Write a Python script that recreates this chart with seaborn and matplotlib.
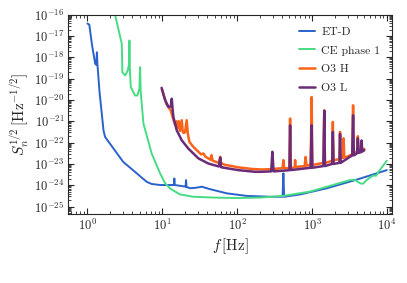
import numpy as np
import pandas as pd
import matplotlib
matplotlib.use("Agg")
import matplotlib.pyplot as plt
import seaborn as sns
from matplotlib.ticker import LogLocator, NullFormatter

# ET-D sensitivity (log10 of ASD values)
etd_f = [1.0, 1.06, 1.15, 1.27, 1.31, 1.34, 1.36, 1.45, 1.64, 1.72, 3.0, 6.2, 7.2, 9.4, 14.0, 14.3, 14.5, 14.7,
         20.0, 20.5, 20.8, 21.1, 23.5, 28.0, 33.8, 43.0, 72.8, 134, 275, 405, 415, 425, 696, 1590, 4200, 10000]
etd_log = [-16.41, -16.47, -17.4, -18.3, -18.35, -17.76, -18.3, -19.6, -21.42, -21.73, -22.9, -23.84, -23.94, -23.99,
           -23.99, -23.99, -23.68, -23.99, -24.06, -24.07, -23.76, -24.08, -24.14, -24.12, -24.07, -24.18, -24.38,
           -24.5, -24.54, -24.54, -23.44, -24.54, -24.43, -24.14, -23.71, -23.29]

# CE phase 1
ce_f = [2.1, 2.34, 2.88, 2.93, 3.19, 3.46, 3.6, 3.64, 3.7, 3.8, 4.33, 4.65, 4.95, 5.06, 5.15, 5.6, 7.2, 9.34, 10.9,
        12.7, 17.2, 26, 50, 100, 200, 415, 935, 1900, 3200, 3700, 4400, 4800, 5400, 6500, 7200, 8000, 10000]
ce_log = [-15.4, -16.0, -17.37, -18.7, -18.85, -18.62, -18.3, -17.21, -18.7, -19.4, -19.79, -19.79, -19.47, -18.46,
          -19.6, -21.1, -22.5, -23.44, -23.9, -24.15, -24.43, -24.54, -24.58, -24.6, -24.58, -24.5, -24.3, -23.99,
          -23.76, -23.74, -23.91, -23.93, -23.75, -23.55, -23.55, -23.3, -22.85]

# O3 Hanford
o3h_f = [9.9, 11.4, 12.2, 13.0, 14.0, 15.0, 15.5, 16.2, 16.6, 17.2, 18.2, 18.8, 19.5, 20.2, 21.2, 22.0, 23.0,
         26.0, 30.4, 33.0, 35.5, 37.5, 41.2, 44.0, 45.5, 47.0, 52.0, 57.0, 59.5, 61.0, 62.0, 70.0, 85.0, 103,
         130, 160, 212, 260, 296, 340, 405, 415, 425, 470, 500, 510, 520, 560, 590, 595, 600, 700, 800, 822,
         845, 960, 990, 1010, 1200, 1420, 1460, 1490, 1700, 1860, 1900, 1940, 2100, 2330, 2370, 2420, 2600,
         2650, 2700, 3000, 3200, 3450, 3540, 3620, 3900, 4000, 4100, 4200, 4500, 4700, 5000]
o3h_log = [-19.5, -20.2, -20.35, -20.5, -20.9, -21.2, -21.0, -21.3, -21.0, -21.45, -20.95, -21.5, -21.55, -21.5,
           -20.95, -21.6, -21.96, -22.2, -22.43, -22.55, -22.51, -22.65, -22.74, -22.8, -22.59, -22.85, -22.9,
           -22.95, -22.67, -22.98, -22.98, -23.05, -23.1, -23.16, -23.2, -23.24, -23.26, -23.25, -23.25, -23.22,
           -23.2, -22.82, -23.2, -23.2, -23.2, -20.87, -23.2, -23.18, -23.15, -22.82, -23.15, -23.12, -23.1,
           -22.67, -23.08, -23.05, -19.86, -23.05, -23.0, -22.95, -20.49, -22.95, -22.9, -22.85, -21.03, -22.85,
           -22.8, -22.78, -21.5, -22.75, -22.7, -21.8, -22.7, -22.65, -22.6, -22.55, -20.25, -22.5, -22.45, -22.4,
           -21.7, -22.4, -22.35, -22.3, -22.3]

# O3 Livingston
o3l_f = [9.8, 10.9, 12.1, 13.0, 13.4, 13.8, 14.1, 15.6, 18.2, 22.3, 30.4, 41.2, 57.0, 59.5, 61.0, 62.0, 103,
         173, 212, 285, 296, 307, 480, 500, 510, 520, 960, 990, 1010, 1420, 1460, 1490, 1860, 1900, 1940, 2330,
         2370, 2420, 3200, 3450, 3540, 3620, 4000, 4100, 4200, 4500, 4600, 4700, 5000]
o3l_log = [-19.43, -20.0, -20.33, -20.3, -19.94, -20.5, -20.8, -21.42, -21.89, -22.28, -22.74, -22.98, -23.12,
           -22.7, -23.15, -23.16, -23.29, -23.37, -23.37, -23.35, -22.43, -23.35, -23.3, -23.29, -21.19, -23.29,
           -23.18, -21.19, -23.18, -23.1, -20.5, -23.1, -23.0, -21.5, -23.0, -22.95, -21.6, -22.95, -22.67,
           -22.6, -20.72, -22.6, -22.5, -21.8, -22.48, -22.45, -21.9, -22.42, -22.36]

curves = [
    ("ET-D", etd_f, etd_log, "#2a62cc", 1.4),
    ("CE phase 1", ce_f, ce_log, "#47dc84", 1.4),
    ("O3 H", o3h_f, o3h_log, "#fa6319", 1.8),
    ("O3 L", o3l_f, o3l_log, "#6a2c78", 1.8),
]

sns.set_style("ticks")
plt.rcParams["font.family"] = ["cmr10", "DejaVu Serif"]
plt.rcParams["mathtext.fontset"] = "cm"
plt.rcParams["axes.formatter.use_mathtext"] = True

fig, ax = plt.subplots(figsize=(4.07, 2.83), dpi=100)
fig.subplots_adjust(left=0.167, right=0.963, top=0.948, bottom=0.244)

for name, f, lg, col, lw in curves:
    df = pd.DataFrame({"f": f, "S": 10.0 ** np.array(lg)})
    sns.lineplot(data=df, x="f", y="S", ax=ax, color=col, lw=lw, label=name,
                 estimator=None, sort=False)

ax.set_xscale("log")
ax.set_yscale("log")
ax.set_xlim(0.55, 1.17e4)
ax.set_ylim(4.5e-26, 1e-16)

ax.yaxis.set_major_locator(LogLocator(base=10, numticks=20))
ax.yaxis.set_minor_locator(LogLocator(base=10, subs=np.arange(2, 10), numticks=100))
ax.yaxis.set_minor_formatter(NullFormatter())
ax.xaxis.set_minor_locator(LogLocator(base=10, subs=np.arange(2, 10), numticks=100))
ax.xaxis.set_minor_formatter(NullFormatter())
ax.tick_params(which="both", direction="in", top=True, right=True, labelsize=9, pad=2.5)
ax.tick_params(which="major", length=4, width=0.8)
ax.tick_params(which="minor", length=2, width=0.6)

ax.set_xlabel(r"$f\,[\mathrm{Hz}]$", fontsize=11, labelpad=3)
ax.set_ylabel(r"$S_n^{1/2}\,[\mathrm{Hz}^{-1/2}]$", fontsize=11, labelpad=2)

ax.legend(loc="upper right", frameon=False, fontsize=8.5, handlelength=1.4,
          labelspacing=0.72, borderaxespad=0.6, handletextpad=0.5)

fig.savefig("out.png", dpi=100)
